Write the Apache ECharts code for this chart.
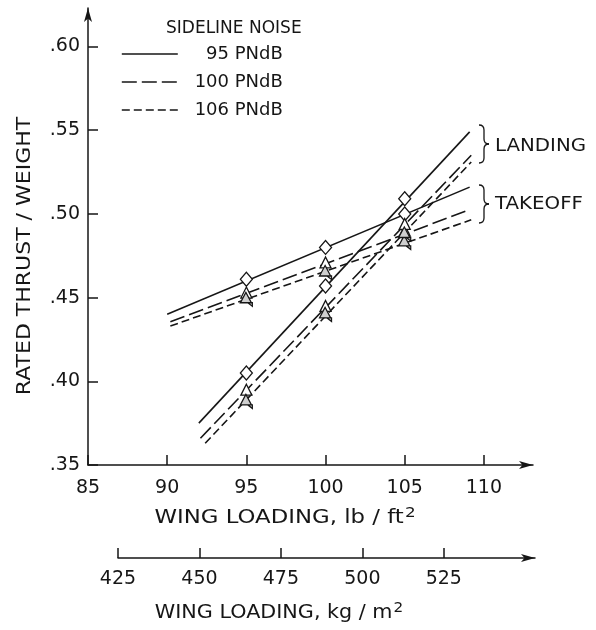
<!DOCTYPE html>
<html>
<head>
<meta charset="utf-8">
<title>Rated thrust / weight vs wing loading</title>
<script src="https://cdn.jsdelivr.net/npm/echarts@6/dist/echarts.min.js"></script>
<style>
  html, body { margin: 0; padding: 0; background: #fff; }
  #chart { width: 596px; height: 630px; }
</style>
</head>
<body>
<div id="chart"></div>
<script>
// Wing loading (lb/ft^2) at which the design points were computed
const wingLoading = [95, 100, 105];

// Design points, rated thrust / weight
const takeoff95 = [0.461, 0.480, 0.500];
const takeoff100 = [0.453, 0.471, 0.490];
const takeoff106 = [0.449, 0.465, 0.483];
const landing95 = [0.405, 0.457, 0.509];
const landing100 = [0.395, 0.445, 0.494];
const landing106 = [0.388, 0.440, 0.488];

// Faired lines: [start, end] wing loading and thrust / weight
const takeoff95Line = [[90.0, 0.440], [109.1, 0.516]];
const takeoff100Line = [[90.2, 0.4355], [109.1, 0.5025]];
const takeoff106Line = [[90.2, 0.433], [109.2, 0.4965]];
const landing95Line = [[92.0, 0.375], [109.1, 0.549]];
const landing100Line = [[92.1, 0.366], [109.2, 0.535]];
const landing106Line = [[92.4, 0.363], [109.2, 0.531]];

// Noise levels (legend) and tick labels
const noiseLevels = ['95 PNdB', '100 PNdB', '106 PNdB'];
const yTicks = [0.35, 0.40, 0.45, 0.50, 0.55, 0.60];
const xTicks = [85, 90, 95, 100, 105, 110];
const kgTicks = [425, 450, 475, 500, 525];

const INK = '#161616';
const FONT = '"DejaVu Sans", "Liberation Sans", sans-serif';
const dashes = ['solid', [15, 5], [8, 4]];
const symbols = [
  'diamond',
  'triangle',
  'path://M6,0 L12,12 L0,12 Z M8,12 L13,16 L13,12 Z'
];
const symbolSizes = [[12, 14], [11, 11], [12, 14]];

function lineSeries(name, pts, idx) {
  return {
    type: 'line', name: name, data: pts, symbol: 'none',
    xAxisIndex: 0, yAxisIndex: 0, silent: true, z: 2,
    itemStyle: { color: INK },
    lineStyle: { color: INK, width: 1.6, type: dashes[idx] }
  };
}
function pointSeries(name, ys, idx) {
  return {
    type: 'scatter', name: name,
    data: wingLoading.map((x, i) => [x, ys[i]]),
    symbol: symbols[idx], symbolSize: symbolSizes[idx],
    xAxisIndex: 0, yAxisIndex: 0, z: 3,
    itemStyle: { color: idx === 2 ? '#cfcfcf' : '#fff', borderColor: INK, borderWidth: 1.3, opacity: 1 }
  };
}

// Curly brace built from curves and straight segments, opening to the left
function brace(x, yTop, yBot) {
  const ym = (yTop + yBot) / 2, xs = x + 5, xt = x + 10, r = 5;
  const st = { fill: 'none', stroke: INK, lineWidth: 1.3 };
  return [
    { type: 'bezierCurve', shape: { x1: x, y1: yTop, x2: xs, y2: yTop + r, cpx1: xs, cpy1: yTop }, style: st },
    { type: 'line', shape: { x1: xs, y1: yTop + r, x2: xs, y2: ym - r }, style: st },
    { type: 'bezierCurve', shape: { x1: xs, y1: ym - r, x2: xt, y2: ym, cpx1: xs, cpy1: ym }, style: st },
    { type: 'bezierCurve', shape: { x1: xt, y1: ym, x2: xs, y2: ym + r, cpx1: xs, cpy1: ym }, style: st },
    { type: 'line', shape: { x1: xs, y1: ym + r, x2: xs, y2: yBot - r }, style: st },
    { type: 'bezierCurve', shape: { x1: xs, y1: yBot - r, x2: x, y2: yBot, cpx1: xs, cpy1: yBot }, style: st }
  ];
}

const chart = echarts.init(document.getElementById('chart'), null, { renderer: 'canvas' });

const axisCommon = {
  axisLine: { show: true, lineStyle: { color: INK, width: 1.5 }, symbol: ['none', 'arrow'], symbolSize: [6, 14] },
  splitLine: { show: false }
};

chart.setOption({
  animation: false,
  backgroundColor: '#fff',
  textStyle: { fontFamily: FONT, color: INK },
  title: {
    text: 'SIDELINE NOISE', left: 161, top: 15,
    textStyle: { fontFamily: FONT, fontSize: 17, fontWeight: 'normal', color: INK }
  },
  legend: {
    data: noiseLevels, orient: 'vertical', left: 121, top: 45,
    padding: 0, itemWidth: 56, itemHeight: 14, itemGap: 10,
    selectedMode: false,
    itemStyle: { color: 'rgba(0,0,0,0)', borderColor: 'rgba(0,0,0,0)', borderWidth: 0 },
    lineStyle: { color: INK, width: 1.6 },
    formatter: n => '{t|' + n + '}',
    textStyle: {
      fontFamily: FONT, color: INK,
      rich: { t: { fontFamily: FONT, fontSize: 18, color: INK, width: 100, align: 'right' } }
    }
  },
  grid: [
    { left: 88, right: 63, top: 8, bottom: 165, containLabel: false },
    { left: 118, right: 61, top: 557, height: 1, containLabel: false }
  ],
  xAxis: [
    Object.assign({}, axisCommon, {
      type: 'value', gridIndex: 0, min: 85, max: 113.1, interval: 5,
      axisTick: { show: true, inside: true, length: 10, customValues: xTicks, lineStyle: { color: INK, width: 1.5 } },
      axisLabel: { customValues: xTicks, margin: 14, fontFamily: FONT, fontSize: 19, color: INK }
    }),
    Object.assign({}, axisCommon, {
      type: 'value', gridIndex: 1, min: 425, max: 553, interval: 25,
      position: 'bottom',
      axisTick: { show: true, inside: true, length: 10, customValues: kgTicks, lineStyle: { color: INK, width: 1.5 } },
      axisLabel: { customValues: kgTicks, margin: 12, fontFamily: FONT, fontSize: 19, color: INK }
    })
  ],
  yAxis: [
    Object.assign({}, axisCommon, {
      type: 'value', gridIndex: 0, min: 0.35, max: 0.623, interval: 0.05,
      axisTick: { show: true, inside: true, length: 10, customValues: yTicks, lineStyle: { color: INK, width: 1.5 } },
      axisLabel: {
        customValues: yTicks, margin: 8, fontFamily: FONT, fontSize: 19, color: INK,
        formatter: v => v.toFixed(2).replace(/^0/, '')
      }
    }),
    { type: 'value', gridIndex: 1, show: false, min: 0, max: 1 }
  ],
  graphic: [
    {
      type: 'text', x: 25, y: 256, rotation: Math.PI / 2, scaleX: 1.1,
      style: { text: 'RATED THRUST / WEIGHT', fontFamily: FONT, fontSize: 20, fill: INK, align: 'center', verticalAlign: 'middle' }
    },
    {
      type: 'text', x: 285, y: 518, scaleX: 1.2,
      style: {
        text: 'WING LOADING, lb / ft{s|2}', fontFamily: FONT, fontSize: 19, fill: INK,
        align: 'center', verticalAlign: 'middle',
        rich: { s: { fontFamily: FONT, fontSize: 14, fill: INK, verticalAlign: 'top', padding: [0, 0, 10, 1] } }
      }
    },
    {
      type: 'text', x: 279, y: 613, scaleX: 1.09,
      style: {
        text: 'WING LOADING, kg / m{s|2}', fontFamily: FONT, fontSize: 19, fill: INK,
        align: 'center', verticalAlign: 'middle',
        rich: { s: { fontFamily: FONT, fontSize: 14, fill: INK, verticalAlign: 'top', padding: [0, 0, 10, 1] } }
      }
    },
    ...brace(479, 125, 163),
    ...brace(479, 185, 223),
    {
      type: 'text', x: 495, y: 146, scaleX: 1.1,
      style: { text: 'LANDING', fontFamily: FONT, fontSize: 18, fill: INK, align: 'left', verticalAlign: 'middle' }
    },
    {
      type: 'text', x: 495, y: 204, scaleX: 1.1,
      style: { text: 'TAKEOFF', fontFamily: FONT, fontSize: 18, fill: INK, align: 'left', verticalAlign: 'middle' }
    }
  ],
  series: [
    lineSeries(noiseLevels[0], takeoff95Line, 0),
    lineSeries(noiseLevels[1], takeoff100Line, 1),
    lineSeries(noiseLevels[2], takeoff106Line, 2),
    lineSeries(noiseLevels[0], landing95Line, 0),
    lineSeries(noiseLevels[1], landing100Line, 1),
    lineSeries(noiseLevels[2], landing106Line, 2),
    pointSeries('takeoff 95', takeoff95, 0),
    pointSeries('takeoff 100', takeoff100, 1),
    pointSeries('takeoff 106', takeoff106, 2),
    pointSeries('landing 95', landing95, 0),
    pointSeries('landing 100', landing100, 1),
    pointSeries('landing 106', landing106, 2)
  ]
});
</script>
</body>
</html>
